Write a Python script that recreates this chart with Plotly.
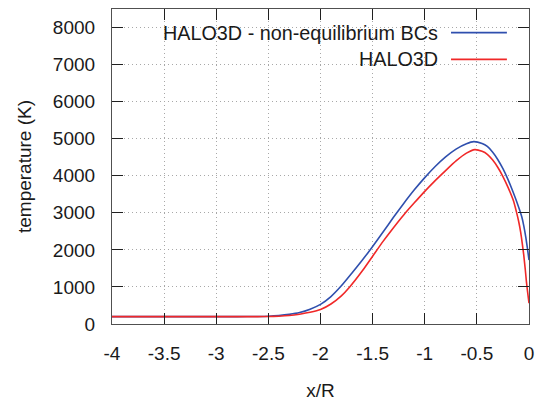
import plotly.graph_objects as go

# Temperature profiles along the line of sight (x/R), two boundary-condition variants
x_noneq = [-4.0, -3.5, -3.0, -2.8, -2.6, -2.5, -2.4, -2.3, -2.2, -2.1, -2.0, -1.9, -1.8,
           -1.7, -1.6, -1.5, -1.4, -1.3, -1.2, -1.1, -1.0, -0.9, -0.8, -0.7, -0.6,
           -0.53, -0.45, -0.4, -0.35, -0.3, -0.25, -0.2, -0.15, -0.1, -0.07, -0.05,
           -0.03, -0.015, 0.0]
t_noneq = [200, 200, 200, 200, 203, 210, 228, 260, 310, 400, 530, 740, 1030,
           1370, 1720, 2090, 2480, 2880, 3260, 3620, 3950, 4250, 4510, 4720, 4865,
           4920, 4870, 4790, 4640, 4440, 4190, 3890, 3540, 3160, 2900, 2650,
           2330, 2040, 1725]

x_eq = [-4.0, -3.5, -3.0, -2.8, -2.6, -2.5, -2.4, -2.3, -2.2, -2.1, -2.0, -1.9, -1.8,
        -1.72, -1.6, -1.5, -1.4, -1.3, -1.2, -1.1, -1.0, -0.9, -0.8, -0.7, -0.6,
        -0.52, -0.45, -0.4, -0.35, -0.3, -0.25, -0.2, -0.15, -0.12, -0.1, -0.08,
        -0.065, -0.05, -0.035, -0.025, -0.015, 0.0]
t_eq = [200, 200, 200, 200, 200, 202, 210, 228, 265, 315, 390, 540, 760,
        1000, 1430, 1830, 2230, 2600, 2950, 3270, 3580, 3870, 4140, 4400, 4610,
        4705, 4660, 4580, 4430, 4230, 3980, 3680, 3330, 3020, 2780, 2480,
        2180, 1850, 1450, 1150, 900, 560]

x_ticks = [-4, -3.5, -3, -2.5, -2, -1.5, -1, -0.5, 0]
x_tick_labels = ["-4", "-3.5", "-3", "-2.5", "-2", "-1.5", "-1", "-0.5", "0"]
y_ticks = [0, 1000, 2000, 3000, 4000, 5000, 6000, 7000, 8000]

series_names = ["HALO3D - non-equilibrium BCs", "HALO3D"]
series_colors = ["#2f4fae", "#f02828"]

FONT = "Liberation Sans, Arial, sans-serif"
FSIZE = 19
TXT = "#1a1a1a"

fig = go.Figure()
fig.add_trace(go.Scatter(x=x_noneq, y=t_noneq, mode="lines", name=series_names[0],
                         line=dict(color=series_colors[0], width=1.6, shape="spline", smoothing=0.5)))
fig.add_trace(go.Scatter(x=x_eq, y=t_eq, mode="lines", name=series_names[1],
                         line=dict(color=series_colors[1], width=1.6, shape="spline", smoothing=0.5)))

axis_common = dict(
    showline=True, linecolor="#505050", linewidth=1.2, mirror="ticks",
    ticks="inside", ticklen=11, tickcolor="#202020", tickwidth=1.2,
    showgrid=True, gridcolor="#a8a8a8", griddash="1px,3px", gridwidth=1,
    zeroline=False, automargin=False,
    tickfont=dict(family=FONT, size=FSIZE, color=TXT),
)

fig.update_xaxes(range=[-4, 0], tickvals=x_ticks, ticktext=x_tick_labels,
                 ticklabelstandoff=12,
                 title=dict(text="x/R", font=dict(family=FONT, size=FSIZE, color=TXT), standoff=20),
                 **axis_common)
fig.update_yaxes(range=[0, 8500], tickvals=y_ticks, ticklabelstandoff=12,
                 title=dict(text="temperature (K)", font=dict(family=FONT, size=FSIZE, color=TXT), standoff=16),
                 **axis_common)

# Opaque key area across the top of the plot (hides the grid there)
fig.add_shape(type="rect", xref="paper", yref="paper", x0=0, x1=1, y0=0.80, y1=1,
              fillcolor="white", line=dict(width=0), layer="between")

# Key: right-aligned labels followed by line samples
key_rows = [0.925, 0.84]
for name, color, ky in zip(series_names, series_colors, key_rows):
    fig.add_annotation(xref="paper", yref="paper", x=0.786, y=ky, xanchor="right", yanchor="middle",
                       text=name, showarrow=False, font=dict(family=FONT, size=19.8, color=TXT))
    fig.add_shape(type="line", xref="paper", yref="paper", x0=0.813, x1=0.947, y0=ky, y1=ky,
                  line=dict(color=color, width=1.6), layer="above")

fig.update_layout(
    width=537, height=402,
    margin=dict(l=112, r=8, t=9, b=78),
    plot_bgcolor="white", paper_bgcolor="white",
    showlegend=False,
    font=dict(family=FONT, size=FSIZE, color=TXT),
)

fig.write_html("out.html")
